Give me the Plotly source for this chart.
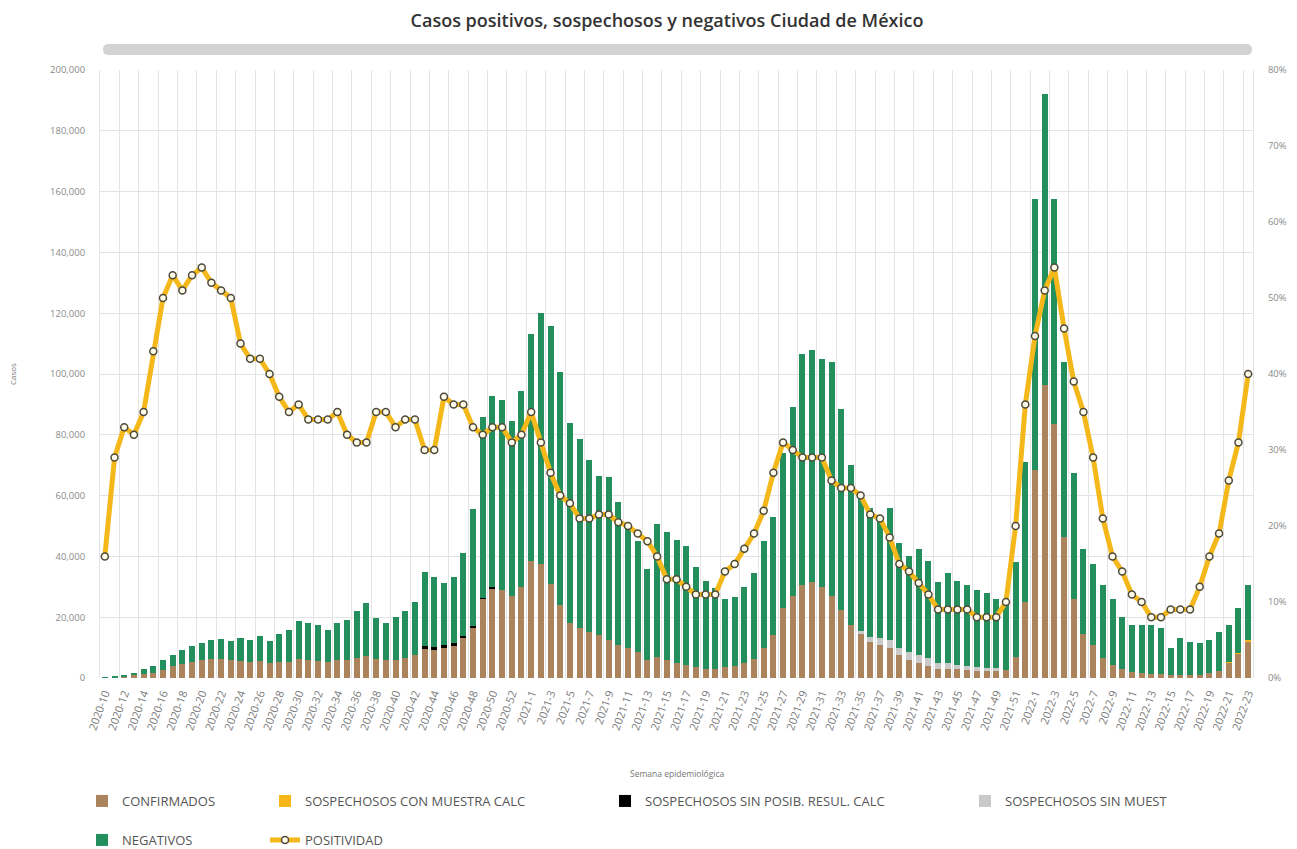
import plotly.graph_objects as go

# ---------------- categories (semana epidemiológica) ----------------
weeks = ([f"2020-{w}" for w in range(10, 54)] +
         [f"2021-{w}" for w in range(1, 53)] +
         [f"2022-{w}" for w in range(1, 24)])
tick_labels = weeks[::2]

# ---------------- series ----------------
confirmados = [150, 250, 400, 900, 1300, 1800, 2700, 3800, 4500, 5300,
               6000, 6300, 6300, 6000, 5600, 5200, 5500, 4900, 5200, 5400,
               6200, 6000, 5700, 5300, 6000, 6000, 6500, 7200, 6400, 5800,
               6000, 6500, 7500, 9500, 9200, 10000, 10500, 13000, 16500, 26000,
               29500, 29000, 27000, 30000, 38500, 37500, 31000, 24000, 18000, 16500,
               15000, 14000, 12500, 11000, 10000, 8500, 6000, 7000, 5800, 5000,
               4300, 3500, 3100, 2900, 3500, 4000, 5100, 6400, 10000, 14000,
               23000, 27000, 30500, 31500, 30000, 27000, 22500, 17500, 14500, 12000,
               11000, 10000, 7500, 6000, 5000, 4000, 3000, 3000, 2800, 2600,
               2300, 2200, 2200, 2500, 7000, 25000, 68500, 96500, 83500, 46500,
               26000, 14500, 11000, 6500, 4200, 2800, 1900, 1750, 1400, 1300,
               900, 1150, 1050, 1050, 1500, 2400, 5000, 8000, 12000]

sosp_con_muestra = [0] * 116 + [200, 300, 500]

sosp_sin_posib = ([0] * 33 + [900, 1000, 900, 900, 800, 600, 400, 300] + [0] * 78)

sosp_sin_muest = ([0] * 78 + [1000, 1500, 2000, 2500, 2500, 2500, 2500, 2500,
                              2000, 2000, 1500, 1500, 1200, 1000, 1000] + [0] * 26)

negativos = [150, 250, 400, 800, 1500, 2100, 3300, 3900, 4800, 5100,
             5500, 6300, 6600, 6100, 7600, 7400, 8200, 7200, 9300, 10500,
             12400, 12100, 11600, 10600, 12100, 13200, 15400, 17500, 13300, 12400,
             14200, 15500, 17500, 24600, 23000, 20400, 21800, 27300, 38500, 59400,
             62900, 62400, 57600, 64500, 74600, 82700, 84800, 76700, 66000, 62100,
             56700, 52500, 53500, 47000, 40000, 36500, 30000, 43500, 42200, 40500,
             39200, 33000, 28900, 26600, 22500, 22500, 24900, 28100, 35000, 39000,
             51000, 62000, 76000, 76500, 75000, 77000, 66000, 52500, 45500, 42500,
             39500, 43500, 34500, 31500, 35000, 32000, 26500, 29500, 27700, 26400,
             25500, 24800, 22800, 22500, 31000, 46000, 89000, 95500, 74000, 57500,
             41500, 28000, 26500, 24000, 21800, 17200, 15600, 15750, 16100, 15200,
             9100, 11850, 10950, 10450, 11000, 12600, 12300, 14700, 18000]

positividad = [16, 29, 33, 32, 35, 43, 50, 53, 51, 53,
               54, 52, 51, 50, 44, 42, 42, 40, 37, 35,
               36, 34, 34, 34, 35, 32, 31, 31, 35, 35,
               33, 34, 34, 30, 30, 37, 36, 36, 33, 32,
               33, 33, 31, 32, 35, 31, 27, 24, 23, 21,
               21, 21.5, 21.5, 20.5, 20, 19, 18, 16, 13, 13,
               12, 11, 11, 11, 14, 15, 17, 19, 22, 27,
               31, 30, 29, 29, 29, 26, 25, 25, 24, 21.5,
               21, 18.5, 15, 14, 12.5, 11, 9, 9, 9, 9,
               8, 8, 8, 10, 20, 36, 45, 51, 54, 46,
               39, 35, 29, 21, 16, 14, 11, 10, 8, 8,
               9, 9, 9, 12, 16, 19, 26, 31, 40]

# ---------------- styling ----------------
C_CONF = "#ab845d"
C_SCM = "#f7b718"
C_SSP = "#000000"
C_SSM = "#c9c9c9"
C_NEG = "#238f5c"
C_POS = "#f4b81a"
FONT = "Open Sans"
GRID = "#e4e4e4"

# the page body adds an 8px offset; lay the figure out in screen pixels
OFF = 8
W, H = 1297 - OFF, 849 - OFF
PX0, PX1, PY0, PY1 = 100, 1253, 70, 678          # plot area in screen px
L, R, T, B = PX0 - OFF, W - (PX1 - OFF), PY0 - OFF, H - (PY1 - OFF)
plot_w = PX1 - PX0
plot_h = PY1 - PY0


def cx(px):
    return (px - OFF) / W


def cy(py):
    return 1 - (py - OFF) / H


def paper_x(px):
    return (px - PX0) / plot_w


def paper_y(py):
    return (PY1 - py) / plot_h


fig = go.Figure()

bar_specs = [
    ("CONFIRMADOS", confirmados, C_CONF, "legend"),
    ("SOSPECHOSOS CON MUESTRA CALC", sosp_con_muestra, C_SCM, "legend2"),
    ("SOSPECHOSOS SIN POSIB. RESUL. CALC", sosp_sin_posib, C_SSP, "legend3"),
    ("SOSPECHOSOS SIN MUEST", sosp_sin_muest, C_SSM, "legend4"),
    ("NEGATIVOS", negativos, C_NEG, "legend5"),
]
for name, vals, col, lg in bar_specs:
    fig.add_trace(go.Bar(x=weeks, y=vals, name=name, marker=dict(color=col, line=dict(width=0)),
                         legend=lg, yaxis="y", showlegend=True))

fig.add_trace(go.Scatter(
    x=weeks, y=positividad, name="POSITIVIDAD", yaxis="y2", legend="legend6",
    mode="lines+markers", showlegend=True,
    line=dict(color=C_POS, width=5),
    marker=dict(size=7, color="#fffbea", line=dict(color="#4d4a3c", width=1.5)),
))


def leg(px, py):
    return dict(x=cx(px), y=cy(py), xref="container", yref="container",
                xanchor="left", yanchor="middle", orientation="h",
                font=dict(family=FONT, size=13, color="#555555"),
                bgcolor="rgba(0,0,0,0)", borderwidth=0, visible=True)


# rounded grey banner under the title
bx0, bx1 = paper_x(103), paper_x(1252)
by0, by1 = paper_y(55), paper_y(44)
bym = (by0 + by1) / 2
rx = 5.5 / plot_w
banner = (f"M {bx0+rx},{by0} L {bx1-rx},{by0} Q {bx1},{by0} {bx1},{bym} "
          f"Q {bx1},{by1} {bx1-rx},{by1} L {bx0+rx},{by1} Q {bx0},{by1} {bx0},{bym} "
          f"Q {bx0},{by0} {bx0+rx},{by0} Z")

fig.update_layout(
    width=W, height=H,
    margin=dict(l=L, r=R, t=T, b=B, autoexpand=False),
    paper_bgcolor="white", plot_bgcolor="white",
    showlegend=True,
    barmode="stack", bargap=0.38,
    title=dict(text="Casos positivos, sospechosos y negativos Ciudad de México",
               x=cx(667), xanchor="center", y=cy(21), yanchor="middle",
               font=dict(family=FONT, size=18, color="#333333", weight=600)),
    xaxis=dict(type="category", range=[-0.5, len(weeks) - 0.5], autorange=False,
               tickmode="array", tickvals=tick_labels, ticktext=tick_labels,
               tickangle=-70, tickfont=dict(family=FONT, size=11, color="#7a7a7a"),
               tickson="boundaries", showgrid=True, gridcolor=GRID, gridwidth=1,
               ticks="", showline=False, zeroline=False, ticklabelstandoff=6,
               automargin=False),
    yaxis=dict(range=[0, 200000], dtick=20000, tickformat=",", showgrid=True, gridcolor=GRID,
               tickfont=dict(family=FONT, size=9.5, color="#8a8a8a"), ticks="",
               zeroline=False, showline=True, linecolor=GRID, linewidth=1,
               ticklabelstandoff=12, automargin=False),
    yaxis2=dict(range=[0, 80], dtick=10, ticksuffix="%", overlaying="y", side="right",
                showgrid=False, tickfont=dict(family=FONT, size=9.5, color="#8a8a8a"),
                ticks="", zeroline=False, showline=True, linecolor=GRID, linewidth=1,
                ticklabelstandoff=12, automargin=False),
    legend=leg(82, 801),
    legend2=leg(265, 801),
    legend3=leg(605, 801),
    legend4=leg(965, 801),
    legend5=leg(82, 840),
    legend6=leg(265, 840),
    shapes=[dict(type="path", xref="paper", yref="paper", path=banner,
                 fillcolor="#d3d3d3", line=dict(width=0), layer="above")],
    annotations=[
        dict(text="Casos", xref="paper", yref="paper", x=paper_x(12), y=0.5,
             textangle=-90, showarrow=False, font=dict(family=FONT, size=8, color="#777777"),
             xanchor="center", yanchor="middle"),
        dict(text="Semana epidemiológica", xref="paper", yref="paper", x=0.5,
             y=paper_y(773), showarrow=False,
             font=dict(family=FONT, size=8.5, color="#777777"), xanchor="center", yanchor="middle"),
    ],
)

fig.write_html("out.html")
